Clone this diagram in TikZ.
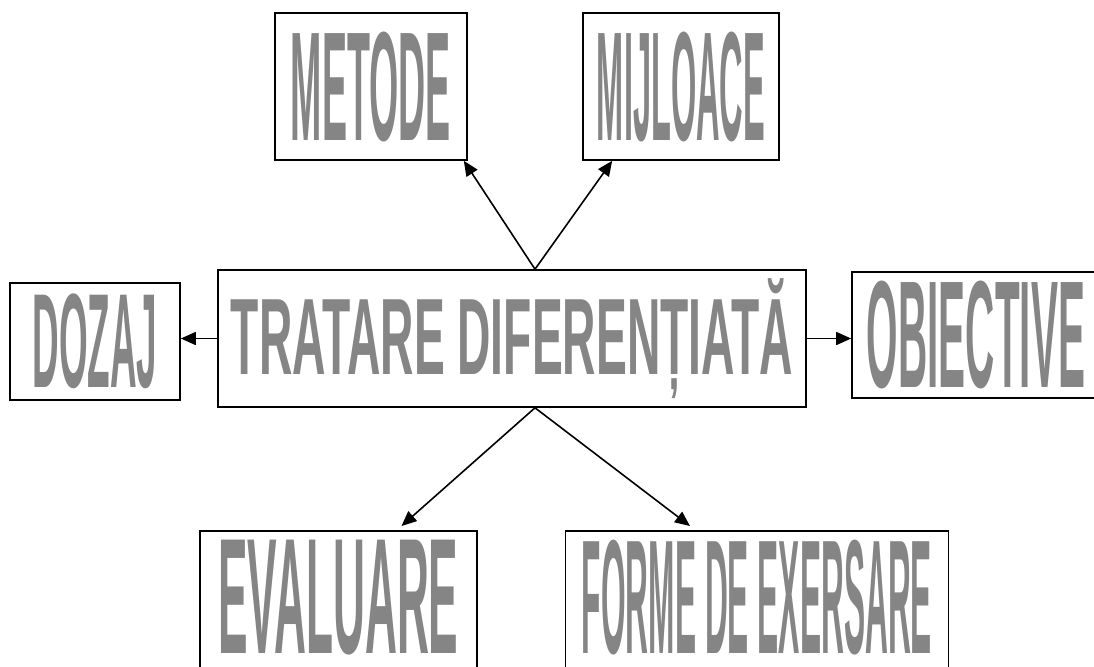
\documentclass[tikz,border=0pt]{standalone}
\usepackage{fontspec}
\setmainfont{Liberation Sans}
\usetikzlibrary{arrows.meta}

\newcommand{\wordart}[3]{\resizebox*{#1pt}{#2pt}{\bfseries #3}}

\begin{document}
\begin{tikzpicture}[x=0.5pt,y=-0.5pt]
    \useasboundingbox (0,0) rectangle (1094,666);
    \clip (0,0) rectangle (1094,666);
    \tikzset{ArtBox/.style={draw, line width=0.8pt, inner sep=0pt, text=black!48}}
    \tikzset{OpenBox/.style={inner xsep=9pt, inner ysep=4.5pt, text=black!48}}
    \tikzset{ArtEdge/.style={-{Triangle[length=7.5pt,width=6.5pt]}, line width=0.8pt}}

    \node[ArtBox, minimum width=294pt, minimum height=68.5pt] (centre) at (512,338.5)
        {\wordart{281}{60}{TRATARE DIFERENȚIATĂ}};

    \node[ArtBox, minimum width=96pt, minimum height=73.5pt] (metode) at (371,86.5)
        {\wordart{80}{55}{METODE}};
    \node[ArtBox, minimum width=98pt, minimum height=73.5pt] (mijloace) at (681,86.5)
        {\wordart{84}{55}{MIJLOACE}};
    \node[ArtBox, minimum width=85pt, minimum height=58.5pt] (dozaj) at (95,341.5)
        {\wordart{62.5}{47.5}{DOZAJ}};
    \node[ArtBox, minimum width=124pt, minimum height=63pt] (obiective) at (976,335)
        {\wordart{109}{54}{OBIECTIVE}};

    % bottom boxes run past the page edge
    \node[OpenBox, anchor=north] (evaluare) at (338.5,531)
        {\wordart{120}{57.5}{EVALUARE}};
    \node[OpenBox, inner xsep=8pt, anchor=north] (forme) at (757,531)
        {\wordart{175}{57.5}{FORME DE EXERSARE}};
    \draw[line width=0.8pt] ([yshift=-20pt]evaluare.south west) -- (evaluare.north west)
        -- (evaluare.north east) -- ([yshift=-20pt]evaluare.south east);
    \draw[line width=0.8pt] ([yshift=-20pt]forme.south west) -- (forme.north west)
        -- (forme.north east) -- ([yshift=-20pt]forme.south east);

    \coordinate (top) at ([xshift=11.5pt]centre.north);
    \coordinate (bottom) at ([xshift=11.5pt]centre.south);
    \draw[ArtEdge] (top) -- ([xshift=-2pt]metode.south east);
    \draw[ArtEdge] (top) -- ([xshift=15pt]mijloace.south west);
    \draw[ArtEdge] (centre.west) -- (dozaj.east |- centre.west);
    \draw[ArtEdge] (centre.east) -- (obiective.west |- centre.east);
    \draw[ArtEdge] (bottom) -- ([xshift=31.5pt,yshift=2.5pt]evaluare.north);
    \draw[ArtEdge] (bottom) -- ([xshift=-33.5pt,yshift=2.5pt]forme.north);
\end{tikzpicture}
\end{document}
